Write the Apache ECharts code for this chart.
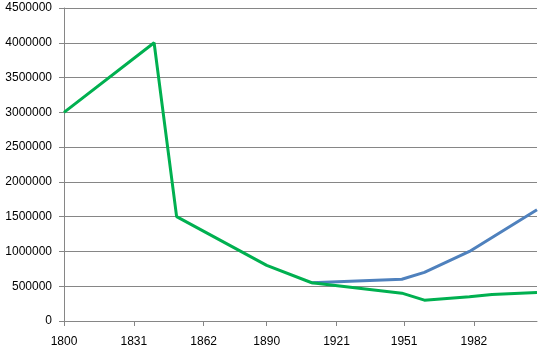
<!DOCTYPE html>
<html>
<head>
<meta charset="utf-8">
<script src="https://cdn.jsdelivr.net/npm/echarts@6/dist/echarts.min.js"></script>
<style>
html,body{margin:0;padding:0;background:#fff;}
#chart{width:550px;height:358px;}
</style>
</head>
<body>
<div id="chart"></div>
<script>
const greenYears = [1800, 1840, 1850, 1890, 1910, 1950, 1960, 1980, 1990, 2010];
const greenValues = [3000000, 4000000, 1500000, 800000, 550000, 400000, 300000, 350000, 380000, 410000];
const blueYears = [1910, 1950, 1960, 1980, 2010];
const blueValues = [550000, 600000, 700000, 1000000, 1600000];
const xTickLabels = [1800, 1831, 1862, 1890, 1921, 1951, 1982];
const yTickValues = [0, 500000, 1000000, 1500000, 2000000, 2500000, 3000000, 3500000, 4000000, 4500000];

const chart = echarts.init(document.getElementById('chart'));
const font = 'Liberation Sans, Arial, sans-serif';
chart.setOption({
  animation: false,
  backgroundColor: '#ffffff',
  grid: { left: 64, right: 13, top: 8, bottom: 37, containLabel: false, outerBoundsMode: 'none' },
  xAxis: {
    type: 'value',
    min: 1800,
    max: 2010,
    axisLine: { show: true, lineStyle: { color: '#868686', width: 1 } },
    axisTick: { show: true, length: 5, customValues: xTickLabels, lineStyle: { color: '#868686' } },
    axisLabel: { customValues: xTickLabels, margin: 15, color: '#000', fontFamily: font, fontSize: 12, formatter: v => String(v) },
    splitLine: { show: false }
  },
  yAxis: {
    type: 'value',
    min: 0,
    max: 4500000,
    interval: 500000,
    axisLine: { show: true, lineStyle: { color: '#868686', width: 1 } },
    axisTick: { show: true, length: 5, customValues: yTickValues, lineStyle: { color: '#868686' } },
    axisLabel: { customValues: yTickValues, margin: 12, color: '#000', fontFamily: font, fontSize: 12, formatter: v => String(v) },
    splitLine: { show: true, lineStyle: { color: '#868686', width: 1 } }
  },
  series: [
    {
      type: 'line',
      data: blueYears.map((y, i) => [y, blueValues[i]]),
      showSymbol: false,
      lineStyle: { color: '#4F81BD', width: 3 },
      itemStyle: { color: '#4F81BD' }
    },
    {
      type: 'line',
      data: greenYears.map((y, i) => [y, greenValues[i]]),
      showSymbol: false,
      lineStyle: { color: '#00B050', width: 3 },
      itemStyle: { color: '#00B050' }
    }
  ]
});
</script>
</body>
</html>
